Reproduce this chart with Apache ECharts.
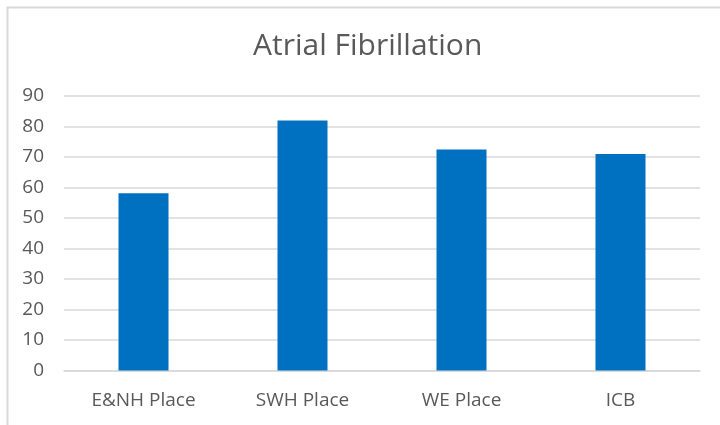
<!DOCTYPE html>
<html>
<head>
<meta charset="utf-8">
<script src="https://cdn.jsdelivr.net/npm/echarts@6/dist/echarts.min.js"></script>
<style>
html,body{margin:0;padding:0;background:#fff;}
#chart{width:720px;height:425px;}
</style>
</head>
<body>
<div id="chart"></div>
<script>
const titleText = "Atrial Fibrillation";
const categories = ["E&NH Place", "SWH Place", "WE Place", "ICB"];
const values = [58.1, 82, 72.5, 71];
const yTicks = {min: 0, max: 90, interval: 10};

const chart = echarts.init(document.getElementById('chart'), null, {renderer: 'canvas'});
chart.setOption({
  animation: false,
  backgroundColor: '#fff',
  graphic: [{
    type: 'rect', left: 5, top: 5, silent: true,
    shape: {width: 730, height: 440},
    style: {fill: 'none', stroke: '#d9d9d9', lineWidth: 2}
  }],
  title: {
    text: titleText, left: 248, top: 26,
    textStyle: {fontFamily: 'Open Sans', fontSize: 30, fontWeight: 'normal', color: '#595959'}
  },
  grid: {left: 64, right: 20, top: 96, bottom: 54.5},
  xAxis: {
    type: 'category', data: categories,
    axisLine: {lineStyle: {color: '#d9d9d9', width: 1.5}},
    axisTick: {show: false},
    axisLabel: {fontFamily: 'Open Sans', fontSize: 19, color: '#595959', margin: 21}
  },
  yAxis: {
    type: 'value', min: yTicks.min, max: yTicks.max, interval: yTicks.interval,
    axisLine: {show: false}, axisTick: {show: false},
    splitLine: {lineStyle: {color: '#d9d9d9', width: 1.5}},
    axisLabel: {fontFamily: 'Open Sans', fontSize: 19, color: '#595959', margin: 20}
  },
  series: [{
    type: 'bar', data: values, barWidth: 50,
    itemStyle: {color: '#0070C0'}
  }]
});
</script>
</body>
</html>
